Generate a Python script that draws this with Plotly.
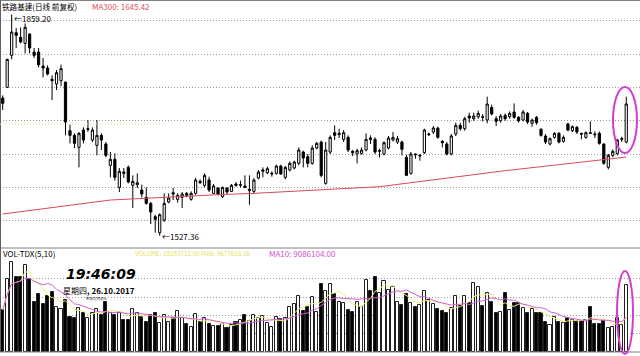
import plotly.graph_objects as go
import pandas as pd

# ---------------- data ----------------
opens = [1734, 1750, 1798, 1832, 1825, 1816, 1830, 1803, 1803, 1782,
         1779, 1762, 1755, 1760, 1758, 1685, 1678, 1660, 1686, 1687,
         1671, 1663, 1678, 1665, 1633, 1642, 1600, 1623, 1630, 1603,
         1604, 1596, 1585, 1576, 1556, 1532, 1551, 1578, 1592, 1582,
         1585, 1591, 1582, 1591, 1609, 1603, 1611, 1591, 1599, 1586,
         1599, 1594, 1605, 1603, 1602, 1595, 1594, 1614, 1624, 1622,
         1620, 1621, 1632, 1615, 1626, 1629, 1636, 1653, 1646, 1636,
         1659, 1668, 1606, 1653, 1682, 1679, 1672, 1675, 1654, 1650,
         1651, 1656, 1674, 1672, 1654, 1650, 1659, 1671, 1668, 1668,
         1645, 1621, 1650, 1647, 1652, 1679, 1683, 1689, 1669, 1665,
         1650, 1680, 1693, 1688, 1707, 1703, 1706, 1706, 1701, 1720,
         1703, 1700, 1708, 1706, 1713, 1705, 1701, 1711, 1696, 1705,
         1687, 1677, 1665, 1675, 1681, 1669, 1695, 1685, 1690, 1681,
         1675, 1682, 1680, 1681, 1665, 1630, 1648, 1651, 1672, 1668]
highs = [1738, 1793, 1859.2, 1839, 1840, 1846, 1831, 1809, 1809, 1794,
         1783, 1768, 1776, 1784, 1758, 1694, 1681, 1683, 1690, 1701,
         1690, 1701, 1681, 1668, 1653, 1651, 1629, 1629, 1633, 1618,
         1621, 1604, 1600, 1578, 1559, 1561, 1591, 1591, 1599, 1591,
         1593, 1593, 1594, 1614, 1612, 1621, 1616, 1605, 1600, 1601,
         1600, 1605, 1608, 1610, 1618, 1618, 1614, 1626, 1630, 1631,
         1624, 1634, 1634, 1632, 1639, 1640, 1660, 1655, 1650, 1663,
         1668, 1670, 1668, 1678, 1693, 1688, 1686, 1678, 1656, 1658,
         1660, 1681, 1678, 1675, 1658, 1669, 1677, 1683, 1677, 1670,
         1649, 1653, 1651, 1650, 1688, 1682, 1692, 1691, 1671, 1668,
         1680, 1697, 1697, 1706, 1712, 1712, 1715, 1710, 1736, 1724,
         1707, 1710, 1711, 1714, 1726, 1707, 1716, 1713, 1703, 1707,
         1689, 1680, 1675, 1683, 1683, 1678, 1697, 1693, 1692, 1682,
         1684, 1699, 1684, 1684, 1666, 1650, 1657, 1673, 1676, 1736]
lows = [1716, 1749, 1792, 1809, 1816, 1801, 1801, 1794, 1780, 1765,
        1768, 1731, 1746, 1752, 1678, 1666, 1659, 1630, 1666, 1683,
        1668, 1648, 1656, 1645, 1615, 1610, 1593, 1614, 1606, 1569,
        1599, 1585, 1574, 1545, 1532, 1527.36, 1548, 1576, 1581, 1577,
        1569, 1585, 1580, 1589, 1605, 1600, 1593, 1590, 1588, 1584,
        1590, 1593, 1601, 1600, 1599, 1574, 1590, 1612, 1615, 1620,
        1616, 1619, 1619, 1612, 1624, 1627, 1633, 1630, 1630, 1634,
        1657, 1615, 1604, 1650, 1671, 1674, 1668, 1653, 1647, 1636,
        1649, 1654, 1665, 1650, 1645, 1648, 1657, 1669, 1665, 1648,
        1617, 1619, 1643, 1640, 1650, 1677, 1680, 1673, 1660, 1648,
        1648, 1677, 1685, 1685, 1697, 1700, 1703, 1699, 1696, 1708,
        1692, 1697, 1700, 1703, 1703, 1697, 1699, 1695, 1691, 1694,
        1676, 1665, 1663, 1673, 1666, 1667, 1684, 1683, 1680, 1672,
        1673, 1680, 1674, 1664, 1634, 1627, 1645, 1648, 1668, 1666]
closes = [1726, 1792, 1833, 1828, 1818, 1840, 1809, 1798, 1784, 1779,
          1770, 1760, 1772, 1778, 1698, 1678, 1666, 1681, 1671, 1688,
          1686, 1678, 1671, 1648, 1642, 1615, 1624, 1621, 1608, 1609,
          1607, 1590, 1576, 1563, 1552, 1559, 1576, 1584, 1590, 1588,
          1590, 1588, 1591, 1611, 1607, 1618, 1596, 1602, 1590, 1600,
          1593, 1603, 1603, 1604, 1600, 1597, 1611, 1623, 1626, 1628,
          1621, 1632, 1620, 1630, 1636, 1638, 1656, 1644, 1636, 1659,
          1666, 1618, 1656, 1675, 1678, 1681, 1682, 1656, 1652, 1655,
          1656, 1672, 1672, 1653, 1655, 1667, 1674, 1675, 1673, 1657,
          1618, 1650, 1649, 1648, 1686, 1680, 1689, 1675, 1667, 1650,
          1677, 1693, 1688, 1703, 1704, 1707, 1711, 1705, 1725, 1710,
          1699, 1707, 1703, 1711, 1705, 1700, 1713, 1698, 1701, 1697,
          1678, 1668, 1673, 1681, 1668, 1675, 1686, 1691, 1683, 1680,
          1682, 1681, 1679, 1666, 1636, 1648, 1654, 1671, 1673, 1725]
# volume in millions of shares
volumes = [11.5, 19.9, 24.6, 20.5, 20.5, 23.8, 19.9, 13.7, 15.8, 13.1,
           15.3, 16.4, 12.3, 11.7, 14.2, 9.6, 9.3, 12.0, 10.6, 9.3,
           10.6, 11.7, 10.1, 13.7, 10.6, 10.1, 10.6, 8.7, 8.7, 11.7,
           10.6, 9.6, 8.2, 10.1, 10.6, 7.9, 10.1, 8.2, 9.3, 11.2,
           9.3, 7.7, 6.8, 10.4, 8.2, 9.3, 7.7, 7.1, 7.1, 7.7,
           6.6, 7.4, 8.2, 8.7, 10.1, 8.5, 10.1, 9.3, 9.8, 7.9,
           6.8, 9.6, 9.0, 9.3, 12.3, 13.1, 15.3, 11.2, 12.3, 15.0,
           10.9, 18.6, 16.7, 18.6, 15.8, 13.7, 13.4, 11.5, 10.9, 13.7,
           12.3, 19.7, 16.7, 20.5, 16.1, 19.4, 16.9, 17.8, 13.7, 12.8,
           15.8, 13.4, 12.3, 12.8, 16.7, 14.2, 13.1, 11.7, 11.2, 10.7,
           12.0, 15.3, 12.6, 15.3, 13.4, 18.9, 17.8, 12.6, 16.1, 13.7,
           10.6, 10.9, 16.1, 11.5, 13.4, 13.4, 12.0, 10.6, 11.7, 10.6,
           10.6, 8.2, 7.4, 9.6, 8.2, 7.9, 9.3, 8.7, 8.5, 8.5,
           8.7, 12.3, 7.7, 7.7, 8.5, 6.6, 6.8, 9.3, 7.4, 18.3]
ma300_bar = [0, 24, 48, 56, 84, 112, 139]
ma300_val = [1560, 1581, 1589, 1591, 1601, 1625, 1645.42]
price_ticks = [1550, 1600, 1650, 1700, 1750, 1800, 1850]
vol_ticks = [5, 10, 15, 20]

title_text = "铁路基建(日线 前复权)"
ma300_text = "MA300: 1645.42"
vol_title = "VOL-TDX(5,10)"
vol_text = "VOLUME: 18283712.00"
ma5_text = "MA5: 9677616.16"
ma10_text = "MA10: 9086104.00"

# ---------------- figure ----------------
n = len(opens)
idx = list(range(n))
vs = pd.Series(volumes)
ma5 = vs.rolling(5, min_periods=1).mean()
ma10 = vs.rolling(10, min_periods=1).mean()
vol_colors = ["white" if c >= o else "black" for o, c in zip(opens, closes)]

W, H = 640, 356
x0_px, pitch = 2.7, 4.486
xr = [(0 - x0_px) / pitch, (W - x0_px) / pitch]

fig = go.Figure()
fig.add_trace(go.Candlestick(
    x=idx, open=opens, high=highs, low=lows, close=closes,
    increasing=dict(line=dict(color="black", width=1), fillcolor="white"),
    decreasing=dict(line=dict(color="black", width=1), fillcolor="black"),
    whiskerwidth=0, xaxis="x", yaxis="y", showlegend=False, hoverinfo="skip"))
fig.add_trace(go.Scatter(x=ma300_bar, y=ma300_val, mode="lines",
                         line=dict(color="#d9485a", width=1),
                         xaxis="x", yaxis="y", showlegend=False, hoverinfo="skip"))
fig.add_trace(go.Bar(x=idx, y=volumes, width=0.68,
                     marker=dict(color=vol_colors, line=dict(color="#202020", width=1)),
                     xaxis="x2", yaxis="y2", showlegend=False, hoverinfo="skip"))
fig.add_trace(go.Scatter(x=idx, y=ma5, mode="lines",
                         line=dict(color="#eeee80", width=1),
                         xaxis="x2", yaxis="y2", showlegend=False, hoverinfo="skip"))
fig.add_trace(go.Scatter(x=idx, y=ma10, mode="lines",
                         line=dict(color="#d060d0", width=1),
                         xaxis="x2", yaxis="y2", showlegend=False, hoverinfo="skip"))

# price panel: 1850 at y=20.7px, 1.5 price per px, panel 0..248px
p_top = 1850 + 20.7 * 1.5
p_bot = 1850 - (248 - 20.7) * 1.5
v_scale = 0.2732  # millions per px, base at y=352
v_top = (352 - 248) * v_scale

def py(px):  # pixel y -> paper y
    return 1 - px / H

grid = dict(showgrid=True, gridcolor="#9a9a9a", griddash="1px,2px", gridwidth=1,
            zeroline=False, showticklabels=False, ticks="", showline=False)
fig.update_layout(
    width=W, height=H, margin=dict(l=0, r=0, t=0, b=0),
    paper_bgcolor="white", plot_bgcolor="white",
    xaxis=dict(domain=[0, 1], range=xr, visible=False, rangeslider=dict(visible=False)),
    xaxis2=dict(domain=[0, 1], range=xr, visible=False, anchor="y2"),
    yaxis=dict(domain=[py(248), 1], range=[p_bot, p_top], tickvals=price_ticks, **grid),
    yaxis2=dict(domain=[py(352), py(248)], range=[0, v_top], tickvals=vol_ticks,
                anchor="x2", **grid),
    bargap=0, font=dict(family="Noto Sans CJK SC", size=8, color="black"),
)

shapes = []
# frame lines
for yy in [0.5, 248, 352]:
    shapes.append(dict(type="line", xref="paper", yref="paper", x0=0, x1=1,
                       y0=py(yy), y1=py(yy), line=dict(color="#808080", width=1)))
shapes.append(dict(type="line", xref="paper", yref="paper", x0=0.5 / W, x1=0.5 / W,
                   y0=py(352), y1=1, line=dict(color="#606060", width=1)))
# yellow dotted reference line
shapes.append(dict(type="line", xref="paper", yref="y", x0=0, x1=163 / W,
                   y0=1695, y1=1695, line=dict(color="#e6df70", width=1, dash="1px,2px")))
# magenta ellipses around the last bar
shapes.append(dict(type="circle", xref="paper", yref="paper",
                   x0=613 / W, x1=637 / W, y0=py(153), y1=py(87),
                   line=dict(color="#d040d0", width=2)))
shapes.append(dict(type="circle", xref="paper", yref="paper",
                   x0=617 / W, x1=633 / W, y0=py(354), y1=py(271),
                   line=dict(color="#d040d0", width=2)))
fig.update_layout(shapes=shapes)

ann = []
def text(x, y, s, color="black", size=8, anchor="left", **kw):
    ann.append(dict(xref="paper", yref="paper", x=x / W, y=py(y), text=s,
                    showarrow=False, xanchor=anchor, yanchor="middle",
                    font=dict(color=color, size=size, **kw)))

text(0, 7, title_text, size=7.6)
text(90, 7, ma300_text, color="#e05060", size=8)
text(1, 253, vol_title, size=8)
text(133, 253, vol_text + " " + ma5_text, color="#e8e060", size=6.3)
text(267, 253, ma10_text, color="#d050d0", size=8)
# high / low marks
ann.append(dict(x=2.1, y=1859.2, xref="x", yref="y", text="←1859.20", showarrow=False,
                xanchor="left", yanchor="middle", yshift=-4,
                font=dict(size=8, color="black")))
ann.append(dict(x=35, y=1527.36, xref="x", yref="y", text="←1527.36", showarrow=False,
                xanchor="left", yanchor="middle", yshift=-1,
                font=dict(size=8, color="black")))
# clock overlay
text(64, 274, "<b><i>19:46:09</i></b>", size=14, family="DejaVu Sans")
text(61, 290, "星期四<b>, 26.10.2017</b>", size=8)
text(84, 298.5, "农历九月初七", size=3.5)
fig.update_layout(annotations=ann)

fig.write_html("out.html", config={"displayModeBar": False},
               post_script="document.body.style.margin='0';document.body.style.overflow='hidden';")
